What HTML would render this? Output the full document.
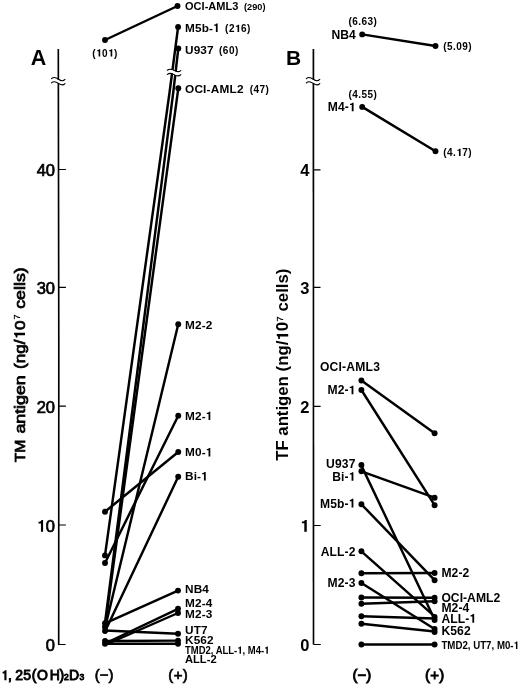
<!DOCTYPE html>
<html><head><meta charset="utf-8">
<style>
html,body{margin:0;padding:0;background:#fff;}
body{width:520px;height:684px;overflow:hidden;}
svg{display:block;will-change:transform;}
text{font-family:"Liberation Sans",sans-serif;font-weight:bold;fill:#000;}
.ln{stroke:#000;stroke-width:2.45;fill:none;stroke-linecap:round;stroke-linejoin:round;}
.ax{stroke:#000;stroke-width:1.65;fill:none;}
.tk{stroke:#000;stroke-width:1.2;fill:none;}
.br{stroke:#000;stroke-width:1.1;fill:none;stroke-linecap:round;}
.l12{font-size:11.8px;letter-spacing:.12px;}
.l11{font-size:11px;}
.lb{font-size:12.1px;}
.n10{font-size:10px;letter-spacing:.45px;}
.n9{font-size:9.2px;}
.s9{font-size:9.5px;}
.tl{font-size:16.5px;}
.mda{font-weight:normal;stroke:#000;stroke-width:.7px;}
.md{font-weight:normal;stroke:#000;stroke-width:.5px;}
.h1{fill:none!important;stroke:none!important;}
</style></head><body>
<svg width="520" height="684" viewBox="0 0 520 684">
<rect width="520" height="684" fill="#fff"/>

<!-- ===== Panel A axis ===== -->
<path class="ax" d="M58.3 49L58.8 350L58.7 644.6"/>
<path class="tk" d="M58.4 169.5H65.9M58.6 287.3H65.9M58.8 406.2H65.9M58.8 525H65.9M58 644.5H65.6"/>
<rect x="55" y="79.6" width="7" height="3.4" fill="#fff"/>
<path class="br" d="M51.5 78.6C53.5 76.8 56 77.4 58.5 79.2S63 81.6 65 79.4"/>
<path class="br" d="M51.5 82.8C53.5 81 56 81.6 58.5 83.4S63 85.8 65 83.6"/>
<text x="30.8" y="64.6" font-size="21.5">A</text>
<text class="tl mda" x="55" y="175.8" text-anchor="end">40</text>
<text class="tl mda" x="55" y="293.6" text-anchor="end">30</text>
<text class="tl mda" x="55" y="412.5" text-anchor="end">20</text>
<text class="tl mda" x="55" y="531.7" text-anchor="end"><tspan class="h1">1</tspan>0</text>
<text class="tl mda" x="55" y="650.6" text-anchor="end">0</text>
<g transform="translate(25 0) rotate(-90)" font-size="15.3">
<text class="mda" style="stroke-width:.75px" x="-462.3" y="0" textLength="22.6" lengthAdjust="spacingAndGlyphs">TM</text>
<text class="mda" style="stroke-width:.75px" x="-433.6" y="0" textLength="58.3" lengthAdjust="spacingAndGlyphs">antigen</text>
<text class="mda" style="stroke-width:.75px" x="-369" y="0" textLength="48.5" lengthAdjust="spacingAndGlyphs">(ng/<tspan class="h1">1</tspan>0</text>
<text class="mda" x="-319.4" y="-5" font-size="9" style="stroke-width:.25px">7</text>
<text class="mda" style="stroke-width:.75px" x="-308.8" y="0" textLength="41.5" lengthAdjust="spacingAndGlyphs">cells)</text>
</g>

<!-- lines A -->
<g class="ln">
<path d="M105 40L177.5 6"/>
<path d="M105 555.4L169.6 92L178.1 27"/>
<path d="M105 623L173.3 92L178.3 48.5"/>
<path d="M105 627L178.3 88.3"/>
<path d="M105 628L178.25 324.25"/>
<path d="M105 563L178.25 415.75"/>
<path d="M105 511.7L178.25 452"/>
<path d="M105 631.5L178.2 476.8"/>
<path d="M105 623.3L178 590.6"/>
<path d="M105 643.5L178 608.8"/>
<path d="M105 645L178 613"/>
<path d="M105 630.5L178 633.8"/>
<path d="M105 641L178 640.6"/>
<path d="M105 643.8L178 643.8"/>
</g>
<!-- break in lines -->
<path d="M167 70.2C169.5 68.6 172 69.2 174 70.4S178.6 72.4 180.8 70.6L180.8 74.8C178.6 76.6 176 75.8 174 74.6S169.5 72.8 167 74.4Z" fill="#fff"/>
<path class="br" d="M167.3 70.2C169.5 68.6 172 69.2 174 70.4S178.6 72.4 180.8 70.6"/>
<path class="br" d="M167.3 74.4C169.5 72.8 172 73.4 174 74.6S178.6 76.6 180.8 74.8"/>
<g fill="#000">
<circle cx="105" cy="40" r="2.95"/><circle cx="177.5" cy="6" r="2.95"/>
<circle cx="178.1" cy="27" r="2.95"/><circle cx="178.3" cy="48.5" r="2.95"/><circle cx="178.3" cy="88.3" r="2.95"/>
<circle cx="178.25" cy="324.25" r="2.95"/><circle cx="178.25" cy="415.75" r="2.95"/><circle cx="178.25" cy="452" r="2.95"/><circle cx="178.2" cy="476.8" r="2.95"/>
<circle cx="178" cy="590.6" r="2.95"/><circle cx="178" cy="608.8" r="2.95"/><circle cx="178" cy="613" r="2.95"/><circle cx="178" cy="633.8" r="2.95"/><circle cx="178" cy="640.6" r="2.95"/><circle cx="178" cy="643.8" r="2.95"/>
<circle cx="105" cy="511.7" r="2.95"/><circle cx="105" cy="555.4" r="2.95"/><circle cx="105" cy="563" r="2.95"/>
<circle cx="105" cy="623.3" r="2.95"/><circle cx="105" cy="627" r="2.95"/><circle cx="105" cy="631" r="2.95"/><circle cx="105" cy="641" r="2.95"/><circle cx="105" cy="643.8" r="2.95"/>
</g>
<!-- labels A -->
<text class="n10" x="105" y="56.5" text-anchor="middle">(<tspan class="h1">1</tspan>0<tspan class="h1">1</tspan>)</text>
<text class="l11" x="185" y="9.8" textLength="53.4">OCI-AML3</text><text class="n9" x="244" y="9.8">(290)</text>
<text class="l12" x="185" y="32">M5b-<tspan class="h1">1</tspan> <tspan class="n10" dx="2">(2<tspan class="h1">1</tspan>6)</tspan></text>
<text class="l12" x="185" y="53.6">U937 <tspan class="n10" dx="2">(60)</tspan></text>
<text class="l12" x="185" y="92.8" textLength="58.6">OCI-AML2</text><text class="n10" x="249.8" y="92.8">(47)</text>
<text class="l12" x="185" y="328.6">M2-2</text>
<text class="l12" x="185" y="420.1">M2-<tspan class="h1">1</tspan></text>
<text class="l12" x="185" y="456.4">M0-<tspan class="h1">1</tspan></text>
<text class="l12" x="185" y="480.4">Bi-<tspan class="h1">1</tspan></text>
<text class="l12" x="185" y="593">NB4</text>
<text class="l12" x="185" y="607">M2-4</text>
<text class="l12" x="185" y="618.2">M2-3</text>
<text class="l12" x="185" y="633.5">UT7</text>
<text class="l12" x="185" y="644.2">K562</text>
<text x="185" y="653.8" font-size="10.2" textLength="84.4" lengthAdjust="spacingAndGlyphs">TMD2, ALL-<tspan class="h1">1</tspan>, M4-<tspan class="h1">1</tspan></text>
<text x="185" y="662.9" font-size="10.2" textLength="31.6" lengthAdjust="spacingAndGlyphs">ALL-2</text>
<text class="mda" style="stroke-width:.9px" y="680.2" font-size="14" x="1 8 11 15.3 23.2 31.8 37 49.8 59.6"><tspan class="h1">1</tspan>, 25(OH)<tspan font-size="8.5" x="64">2</tspan><tspan x="69">D</tspan><tspan font-size="8.5" x="79.6">3</tspan></text>
<text class="mda" x="104.2" y="680" font-size="15" text-anchor="middle">(−)</text>
<text class="mda" x="178.2" y="680" font-size="15" text-anchor="middle" letter-spacing=".3">(+)</text>

<!-- ===== Panel B axis ===== -->
<path class="ax" d="M313.4 49L313.5 644.5"/>
<path class="tk" d="M313 169.8H320.5M313.2 287.3H320.5M313.3 406.3H320.6M313.4 525.5H320.7M313.5 644.5H320.8"/>
<rect x="310.3" y="79.6" width="7" height="3.4" fill="#fff"/>
<path class="br" d="M306.3 78.6C308.3 76.8 310.8 77.4 313.3 79.2S317.8 81.6 319.8 79.4"/>
<path class="br" d="M306.3 82.8C308.3 81 310.8 81.6 313.3 83.4S317.8 85.8 319.8 83.6"/>
<text x="286" y="64.6" font-size="21">B</text>
<text class="tl" x="309.5" y="176.1" text-anchor="end">4</text>
<text class="tl" x="309.5" y="293.6" text-anchor="end">3</text>
<text class="tl" x="309.5" y="412.6" text-anchor="end">2</text>
<text class="tl" x="309.5" y="531.8" text-anchor="end"><tspan class="h1">1</tspan></text>
<text class="tl" x="309.5" y="650.8" text-anchor="end">0</text>
<g transform="translate(288.2 0) rotate(-90)" font-size="16">
<text x="-460.7" y="0" textLength="84.4" lengthAdjust="spacingAndGlyphs">TF antigen</text>
<text x="-371.4" y="0" textLength="49.6" lengthAdjust="spacingAndGlyphs">(ng/<tspan class="h1">1</tspan>0</text>
<text class="mda" x="-321.6" y="-4.8" font-size="9" style="stroke-width:.3px">7</text>
<text x="-311.5" y="0" textLength="42.9" lengthAdjust="spacingAndGlyphs">cells)</text>
</g>

<g class="ln">
<path d="M362.2 34.4L435.5 46"/>
<path d="M362.2 106.9L435.5 151.3"/>
<path d="M361.4 380.5L434.6 433.3"/>
<path d="M361.4 390L434.6 505.2"/>
<path d="M361.3 465.4L434.6 619.5"/>
<path d="M361.4 471.3L434.6 497.7"/>
<path d="M361.4 504.3L434.6 580.2"/>
<path d="M361.4 551.3L434.6 616.4"/>
<path d="M361.4 573.3L434.6 573"/>
<path d="M361.4 583L434.6 629"/>
<path d="M361.4 597.5L434.6 597.8"/>
<path d="M361.4 603.8L434.6 601.2"/>
<path d="M361.4 616.3L434.6 618.5"/>
<path d="M361.4 623.8L434.6 631.5"/>
<path d="M361.4 644.5L434.6 644.5"/>
</g>
<g fill="#000">
<circle cx="362.2" cy="34.4" r="2.95"/><circle cx="435.5" cy="46" r="2.95"/>
<circle cx="362.2" cy="106.9" r="2.95"/><circle cx="435.5" cy="151.3" r="2.95"/>
<circle cx="361.4" cy="380.5" r="2.95"/><circle cx="361.4" cy="390" r="2.95"/><circle cx="361.4" cy="465" r="2.95"/><circle cx="361.4" cy="471.3" r="2.95"/>
<circle cx="361.4" cy="504.3" r="2.95"/><circle cx="361.4" cy="551.3" r="2.95"/><circle cx="361.4" cy="573.3" r="2.95"/><circle cx="361.4" cy="583" r="2.95"/>
<circle cx="361.4" cy="597.5" r="2.95"/><circle cx="361.4" cy="603.8" r="2.95"/><circle cx="361.4" cy="616.3" r="2.95"/><circle cx="361.4" cy="623.8" r="2.95"/><circle cx="361.4" cy="644.5" r="2.95"/>
<circle cx="434.6" cy="433.3" r="2.95"/><circle cx="434.6" cy="497.7" r="2.95"/><circle cx="434.6" cy="505.2" r="2.95"/>
<circle cx="434.6" cy="573" r="2.95"/><circle cx="434.6" cy="580.2" r="2.95"/><circle cx="434.6" cy="597.8" r="2.95"/><circle cx="434.6" cy="601.2" r="2.95"/>
<circle cx="434.6" cy="617" r="2.95"/><circle cx="434.6" cy="620" r="2.95"/><circle cx="434.6" cy="629" r="2.95"/><circle cx="434.6" cy="632" r="2.95"/><circle cx="434.6" cy="644.5" r="2.95"/>
</g>
<!-- labels B -->
<text class="n10" x="363" y="25" text-anchor="middle">(6.63)</text>
<text class="l12 lb" x="331.6" y="38.8" textLength="24.2">NB4</text>
<text class="n10" x="363" y="97.5" text-anchor="middle">(4.55)</text>
<text class="l12 lb" x="327.8" y="111.3" textLength="27.9">M4-<tspan class="h1">1</tspan></text>
<text class="n10" x="443.3" y="50">(5.09)</text>
<text class="n10" x="443.3" y="156">(4.<tspan class="h1">1</tspan>7)</text>
<text class="l12 lb" x="320" y="370.8" textLength="60">OCI-AML3</text>
<text class="l12 lb" x="355.5" y="394.3" text-anchor="end">M2-<tspan class="h1">1</tspan></text>
<text class="l12 lb" x="355.5" y="468.3" text-anchor="end">U937</text>
<text class="l12 lb" x="355.5" y="480.8" text-anchor="end">Bi-<tspan class="h1">1</tspan></text>
<text class="l12 lb" x="355.5" y="507.5" text-anchor="end">M5b-<tspan class="h1">1</tspan></text>
<text class="l12 lb" x="355.5" y="555.5" text-anchor="end">ALL-2</text>
<text class="l12 lb" x="355.5" y="587" text-anchor="end">M2-3</text>
<text class="l12 lb" x="441.4" y="577.3">M2-2</text>
<text class="l12 lb" x="441.4" y="601.5" textLength="58.9">OCI-AML2</text>
<text class="l12 lb" x="441.4" y="611.7">M2-4</text>
<text class="l12 lb" x="441.4" y="622.7">ALL-<tspan class="h1">1</tspan></text>
<text class="l12 lb" x="441.4" y="635.2">K562</text>
<text x="441.4" y="649" font-size="10.6" textLength="77.6" lengthAdjust="spacingAndGlyphs">TMD2, UT7, M0-<tspan class="h1">1</tspan></text>
<text class="mda" style="stroke-width:.9px" x="361.9" y="680" font-size="15" text-anchor="middle">(−)</text>
<text class="mda" style="stroke-width:.9px" x="434.8" y="680" font-size="15" text-anchor="middle" letter-spacing=".3">(+)</text>
<g fill="#000">
<path transform="matrix(1.0000 0.0000 0.0000 1.0000 0.000 0.000) translate(36.62 531.70) scale(0.01650 0.01650)" d="M392 0V-716H297C282 -660 222 -600 115 -600V-503H262V0Z"/>
<path transform="matrix(0.0000 -1.0000 1.0000 0.0000 25.000 0.000) translate(-339.54 0.00) scale(0.01712 0.01530)" d="M392 0V-716H290C275 -660 215 -600 115 -600V-496H255V0Z"/>
<path transform="matrix(1.0000 0.0000 0.0000 1.0000 0.000 0.000) translate(95.98 56.50) scale(0.01082 0.01000)" d="M392 0V-716H277C262 -660 202 -620 95 -620V-520H242V0Z"/>
<path transform="matrix(1.0000 0.0000 0.0000 1.0000 0.000 0.000) translate(108.01 56.50) scale(0.01082 0.01000)" d="M392 0V-716H277C262 -660 202 -620 95 -620V-520H242V0Z"/>
<path transform="matrix(1.0000 0.0000 0.0000 1.0000 0.000 0.000) translate(213.02 32.00) scale(0.01180 0.01180)" d="M392 0V-716H277C262 -660 202 -620 95 -620V-520H242V0Z"/>
<path transform="matrix(1.0000 0.0000 0.0000 1.0000 0.000 0.000) translate(234.91 32.00) scale(0.01082 0.01000)" d="M392 0V-716H277C262 -660 202 -620 95 -620V-520H242V0Z"/>
<path transform="matrix(1.0000 0.0000 0.0000 1.0000 0.000 0.000) translate(205.69 420.10) scale(0.01180 0.01180)" d="M392 0V-716H277C262 -660 202 -620 95 -620V-520H242V0Z"/>
<path transform="matrix(1.0000 0.0000 0.0000 1.0000 0.000 0.000) translate(205.69 456.40) scale(0.01180 0.01180)" d="M392 0V-716H277C262 -660 202 -620 95 -620V-520H242V0Z"/>
<path transform="matrix(1.0000 0.0000 0.0000 1.0000 0.000 0.000) translate(201.09 480.40) scale(0.01180 0.01180)" d="M392 0V-716H277C262 -660 202 -620 95 -620V-520H242V0Z"/>
<path transform="matrix(1.0000 0.0000 0.0000 1.0000 0.000 0.000) translate(237.27 653.80) scale(0.00948 0.01020)" d="M392 0V-716H277C262 -660 202 -620 95 -620V-520H242V0Z"/>
<path transform="matrix(1.0000 0.0000 0.0000 1.0000 0.000 0.000) translate(264.13 653.80) scale(0.00948 0.01020)" d="M392 0V-716H277C262 -660 202 -620 95 -620V-520H242V0Z"/>
<path transform="matrix(1.0000 0.0000 0.0000 1.0000 0.000 0.000) translate(1.00 680.20) scale(0.01400 0.01400)" d="M392 0V-716H275C260 -660 200 -600 115 -600V-481H240V0Z"/>
<path transform="matrix(1.0000 0.0000 0.0000 1.0000 0.000 0.000) translate(300.31 531.80) scale(0.01650 0.01650)" d="M392 0V-716H277C262 -660 202 -620 95 -620V-520H242V0Z"/>
<path transform="matrix(0.0000 -1.0000 1.0000 0.0000 288.200 0.000) translate(-340.54 0.00) scale(0.01685 0.01600)" d="M392 0V-716H277C262 -660 202 -620 95 -620V-520H242V0Z"/>
<path transform="matrix(1.0000 0.0000 0.0000 1.0000 0.000 0.000) translate(348.84 111.30) scale(0.01210 0.01210)" d="M392 0V-716H277C262 -660 202 -620 95 -620V-520H242V0Z"/>
<path transform="matrix(1.0000 0.0000 0.0000 1.0000 0.000 0.000) translate(456.33 156.00) scale(0.01082 0.01000)" d="M392 0V-716H277C262 -660 202 -620 95 -620V-520H242V0Z"/>
<path transform="matrix(1.0000 0.0000 0.0000 1.0000 0.000 0.000) translate(348.64 394.30) scale(0.01210 0.01210)" d="M392 0V-716H277C262 -660 202 -620 95 -620V-520H242V0Z"/>
<path transform="matrix(1.0000 0.0000 0.0000 1.0000 0.000 0.000) translate(348.64 480.80) scale(0.01210 0.01210)" d="M392 0V-716H277C262 -660 202 -620 95 -620V-520H242V0Z"/>
<path transform="matrix(1.0000 0.0000 0.0000 1.0000 0.000 0.000) translate(348.64 507.50) scale(0.01210 0.01210)" d="M392 0V-716H277C262 -660 202 -620 95 -620V-520H242V0Z"/>
<path transform="matrix(1.0000 0.0000 0.0000 1.0000 0.000 0.000) translate(469.43 622.70) scale(0.01210 0.01210)" d="M392 0V-716H277C262 -660 202 -620 95 -620V-520H242V0Z"/>
<path transform="matrix(1.0000 0.0000 0.0000 1.0000 0.000 0.000) translate(513.59 649.00) scale(0.00972 0.01060)" d="M392 0V-716H277C262 -660 202 -620 95 -620V-520H242V0Z"/>
</g>
</svg>
</body></html>
